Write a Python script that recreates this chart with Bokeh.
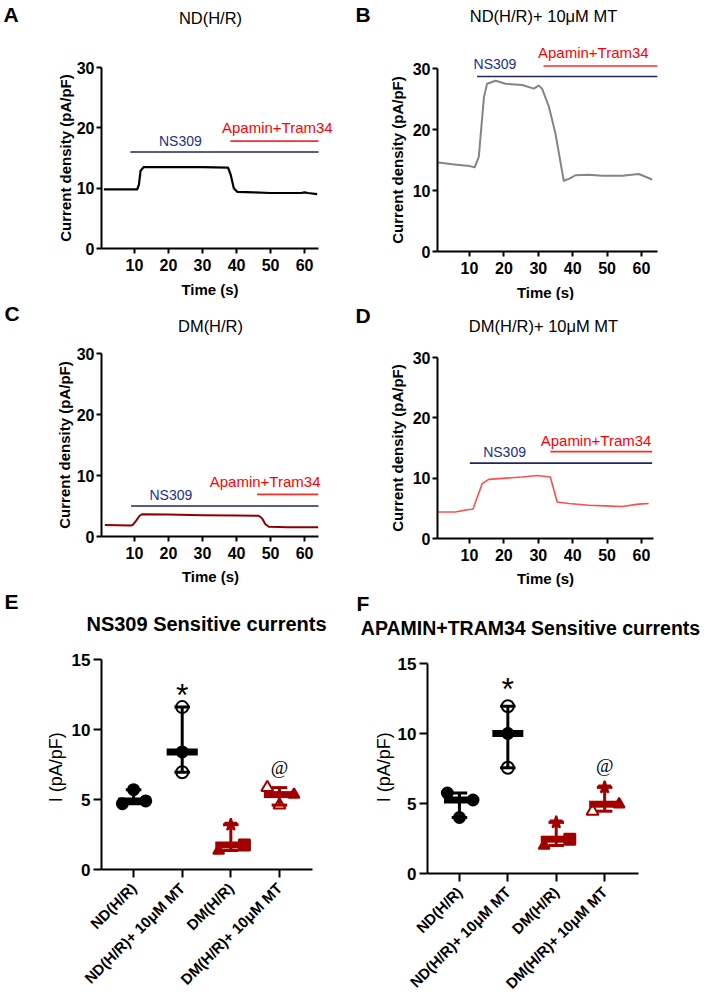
import math
from bokeh.plotting import figure
from bokeh.layouts import column, row
from bokeh.models import Range1d, Label, FixedTicker
from bokeh.embed import file_html
from bokeh.resources import INLINE

FONT = "Liberation Sans"
SERIF = "Liberation Serif"
NAVY = "#1f2566"
BAR_RED = "#ff2a2a"
TXT_NAVY = "#1b2f8a"
TXT_RED = "#ff0000"
DARK_RED = "#a00000"

# ---------------- Panels A-D: current density traces ----------------
a_time = [1.0, 5.0, 10.8, 11.3, 11.8, 12.7, 20.0, 30.0, 37.5, 38.3, 39.2, 40.2, 45.0, 50.0, 55.0, 59.0, 60.0, 61.0, 63.7]
a_curr = [9.8, 9.8, 9.8, 10.6, 12.9, 13.5, 13.5, 13.5, 13.4, 12.2, 10.0, 9.4, 9.3, 9.2, 9.2, 9.2, 9.3, 9.2, 9.0]

b_time = [0.9, 5.0, 10.0, 11.5, 12.7, 14.2, 15.1, 17.6, 20.5, 25.3, 28.7, 30.1, 31.1, 33.1, 35.0, 37.4, 38.9, 40.8, 44.7, 48.6, 54.4, 59.2, 63.1]
b_curr = [14.6, 14.3, 14.0, 13.8, 15.5, 25.3, 27.5, 28.0, 27.5, 27.3, 26.7, 27.2, 26.7, 23.7, 19.3, 11.6, 11.9, 12.5, 12.6, 12.4, 12.4, 12.7, 11.8]

c_time = [1.3, 5.0, 9.0, 9.5, 10.5, 11.5, 12.2, 20.0, 30.0, 40.0, 46.5, 47.5, 48.5, 49.5, 55.0, 64.0]
c_curr = [1.9, 1.85, 1.8, 1.9, 2.6, 3.4, 3.65, 3.6, 3.5, 3.45, 3.4, 3.0, 2.0, 1.6, 1.5, 1.5]

d_time = [0.9, 5.9, 9.8, 11.0, 13.7, 15.6, 20.5, 25.3, 29.7, 33.5, 35.5, 38.9, 44.7, 49.5, 54.4, 59.2, 62.1]
d_curr = [4.4, 4.4, 4.8, 4.85, 9.1, 9.8, 10.0, 10.2, 10.45, 10.2, 6.05, 5.8, 5.5, 5.4, 5.3, 5.7, 5.8]

# treatment bars: [start time, end time, level]
a_ns309 = [8.8, 64.1, 16.0]
a_apamin = [38.2, 64.1, 17.8]
b_ns309 = [12.2, 64.6, 28.7]
b_apamin = [31.5, 64.6, 30.4]
c_ns309 = [9.0, 64.1, 5.0]
c_apamin = [46.0, 64.0, 6.9]
d_ns309 = [10.1, 63.1, 12.5]
d_apamin = [33.5, 63.1, 14.4]

# treatment text anchors: [time, level]
a_ns309_txt = [23.5, 17.9]
a_apamin_txt = [52.0, 20.0]
b_ns309_txt = [17.4, 30.7]
b_apamin_txt = [46.0, 32.7]
c_ns309_txt = [20.7, 6.8]
c_apamin_txt = [48.4, 9.0]
d_ns309_txt = [20.2, 14.3]
d_apamin_txt = [46.8, 16.2]

time_ticks = [10, 20, 30, 40, 50, 60]
curr_ticks = [0, 10, 20, 30]

# ---------------- Panels E-F: sensitive currents ----------------
groups = ["ND(H/R)", "ND(H/R)+ 10\u03bcM MT", "DM(H/R)", "DM(H/R)+ 10\u03bcM MT"]
group_colors = ["#000000", "#000000", DARK_RED, DARK_RED]

e_nd = [5.7, 4.9, 4.7]
e_nd_mt = [11.6, 8.4, 6.95]
e_dm = [3.2, 1.75, 1.35]
e_dm_mt = [5.85, 5.35, 4.6]

f_nd = [5.75, 5.25, 4.0]
f_nd_mt = [11.95, 10.0, 7.55]
f_dm = [3.65, 2.45, 2.0]
f_dm_mt = [6.15, 4.95, 4.45]

sens_ticks = [0, 5, 10, 15]

# significance marks: (group index, level)
e_star = [1, 12.5]
e_at = [3, 7.3]
f_star = [1, 13.2]
f_at = [3, 7.7]

# marker styles (marker, filled, horizontal offset) -- style only
e_styles = [
    [("circle", True, 0.0), ("circle", True, 0.25), ("circle", True, -0.23)],
    [("circle", False, 0.0), ("circle", True, 0.0), ("circle", False, 0.0)],
    [("star", True, 0.0), ("square", True, 0.28), ("triangle", True, -0.25)],
    [("triangle", False, -0.25), ("triangle", True, 0.3), ("triangle", False, 0.0)],
]
f_styles = [
    [("circle", True, -0.25), ("circle", True, 0.28), ("circle", True, 0.0)],
    [("circle", False, 0.0), ("circle", True, 0.0), ("circle", False, 0.0)],
    [("star", True, 0.0), ("square", True, 0.28), ("triangle", True, -0.25)],
    [("star", True, 0.0), ("triangle", True, 0.3), ("triangle", False, -0.25)],
]

# ---------------- layout geometry (page pixels) ----------------
# box: figure (left, top, width, height); xmap/ymap: (pixel, value) pairs at axis ends
PANELS = {
    "A": dict(box=(0, 0, 354, 300), xmap=((101, 0.3), (318, 64.1)), ymap=((248, 0), (67, 30))),
    "B": dict(box=(354, 0, 354, 300), xmap=((437, 0.7), (657, 64.65)), ymap=((251, 0), (68, 30))),
    "C": dict(box=(0, 300, 354, 290), xmap=((101, 0.3), (318, 64.1)), ymap=((536, 0), (353, 30))),
    "D": dict(box=(354, 300, 354, 290), xmap=((437, 0.7), (653, 63.5)), ymap=((538, 0), (357, 30))),
    "E": dict(box=(0, 590, 354, 408), xmap=((101, -0.66), (312, 3.68)), ymap=((869, 0), (659, 15))),
    "F": dict(box=(354, 590, 354, 408), xmap=((427, -0.66), (638, 3.70)), ymap=((873, 0), (663, 15))),
}


def to_data(g, px, py):
    (L, xL), (R, xR) = g["xmap"]
    (B, y0), (T, yT) = g["ymap"]
    return xL + (px - L) * (xR - xL) / (R - L), y0 + (B - py) * (yT - y0) / (B - T)


def make_fig(g):
    ox, oy, w, h = g["box"]
    xs, ys = to_data(g, ox, oy + h)
    xe, ye = to_data(g, ox + w, oy)
    p = figure(width=w, height=h, title=None,
               x_range=Range1d(xs, xe), y_range=Range1d(ys, ye),
               toolbar_location=None, output_backend="svg", min_border=0)
    p.outline_line_color = None
    p.xgrid.visible = False
    p.ygrid.visible = False
    p.background_fill_color = "white"
    p.border_fill_color = "white"
    (L, xL), (R, xR) = g["xmap"]
    (B, y0), (T, yT) = g["ymap"]
    p.xaxis.fixed_location = y0
    p.xaxis.bounds = (xL, xR)
    p.yaxis.fixed_location = xL
    p.yaxis.bounds = (y0, yT)
    for ax in (p.xaxis[0], p.yaxis[0]):
        ax.axis_line_width = 2
        ax.axis_line_color = "black"
        ax.major_tick_line_width = 2
        ax.major_tick_line_color = "black"
        ax.minor_tick_line_color = None
        ax.major_tick_in = 0
        ax.major_label_text_font = FONT
        ax.major_label_text_font_style = "bold"
        ax.major_label_text_color = "black"
    return p


def add_text(p, g, text, px, py, size, bold=False, color="black", align="center",
             font=FONT, angle=0.0):
    x, y = to_data(g, px, py)
    p.add_layout(Label(x=x, y=y, text=text, text_align=align, text_baseline="middle",
                       text_font=font, text_font_size=size, angle=angle,
                       text_font_style="bold" if bold else "normal", text_color=color))


def trace_panel(key, title, title_xy, letter_xy, xlabel_xy, ylabel_xy, t, v, color, lw,
                ns, apa, ns_txt, apa_txt):
    g = PANELS[key]
    p = make_fig(g)
    p.xaxis.ticker = FixedTicker(ticks=time_ticks)
    p.yaxis.ticker = FixedTicker(ticks=curr_ticks)
    for ax in (p.xaxis[0], p.yaxis[0]):
        ax.major_label_text_font_size = "16px"
        ax.major_tick_out = 5
    p.xaxis.major_label_standoff = 5
    p.yaxis.major_label_standoff = 2

    p.line(t, v, line_color=color, line_width=lw, line_join="round")
    p.segment(x0=[ns[0]], y0=[ns[2]], x1=[ns[1]], y1=[ns[2]], line_color=NAVY, line_width=1.6)
    p.segment(x0=[apa[0]], y0=[apa[2]], x1=[apa[1]], y1=[apa[2]], line_color=BAR_RED, line_width=1.6)
    p.add_layout(Label(x=ns_txt[0], y=ns_txt[1], text="NS309", text_align="center",
                       text_baseline="middle", text_font=FONT, text_font_size="14px",
                       text_color=TXT_NAVY))
    p.add_layout(Label(x=apa_txt[0], y=apa_txt[1], text="Apamin+Tram34", text_align="center",
                       text_baseline="middle", text_font=FONT, text_font_size="15px",
                       text_color=TXT_RED))
    add_text(p, g, "Time (s)", xlabel_xy[0], xlabel_xy[1], "15px", bold=True)
    add_text(p, g, "Current density (pA/pF)", ylabel_xy[0], ylabel_xy[1], "15px", bold=True,
             angle=math.pi / 2)
    add_text(p, g, title, title_xy[0], title_xy[1], "16.5px")
    add_text(p, g, key, letter_xy[0], letter_xy[1], "21px", bold=True, align="left")
    return p


def scatter_panel(key, title, title_xy, letter_xy, ylabel_xy, series, styles, star, at,
                  title_size):
    g = PANELS[key]
    p = make_fig(g)
    p.xaxis.ticker = FixedTicker(ticks=list(range(len(groups))))
    p.xaxis.major_label_overrides = {i: name for i, name in enumerate(groups)}
    p.xaxis.major_label_orientation = math.pi / 4
    p.xaxis.major_label_text_font_size = "15px"
    p.xaxis.major_label_standoff = 8
    p.xaxis.major_tick_out = 8
    p.yaxis.ticker = FixedTicker(ticks=sens_ticks)
    p.yaxis.major_label_text_font_size = "17px"
    p.yaxis.major_tick_out = 8
    p.yaxis.major_label_standoff = 3

    for i, (vals, sty, col) in enumerate(zip(series, styles, group_colors)):
        srt = sorted(vals)
        lo, med, hi = srt[0], srt[len(srt) // 2], srt[-1]
        p.segment(x0=[i], y0=[lo], x1=[i], y1=[hi], line_color=col, line_width=3)
        p.segment(x0=[i - 0.16, i - 0.16], y0=[lo, hi], x1=[i + 0.16, i + 0.16], y1=[lo, hi],
                  line_color=col, line_width=3)
        p.segment(x0=[i - 0.32], y0=[med], x1=[i + 0.32], y1=[med], line_color=col, line_width=7)
        for val, (mk, filled, dx) in zip(vals, sty):
            size = 13 if mk == "star" else (12 if not filled else 11)
            p.scatter([i + dx], [val], marker=mk, size=size,
                      fill_color=col if filled else None, line_color=col, line_width=2)

    p.add_layout(Label(x=star[0], y=star[1], text="*", text_align="center", text_baseline="middle",
                       text_font=FONT, text_font_size="32px", text_color="black"))
    p.add_layout(Label(x=at[0], y=at[1], text="@", text_align="center", text_baseline="middle",
                       text_font=SERIF, text_font_size="19px", text_color="black"))
    add_text(p, g, "I (pA/pF)", ylabel_xy[0], ylabel_xy[1], "18px", angle=math.pi / 2)
    add_text(p, g, title, title_xy[0], title_xy[1], title_size, bold=True)
    add_text(p, g, key, letter_xy[0], letter_xy[1], "21px", bold=True, align="left")
    return p


pA = trace_panel("A", "ND(H/R)", (210, 17), (3, 14), (209.5, 289), (65, 157.5),
                 a_time, a_curr, "#000000", 2.2, a_ns309, a_apamin, a_ns309_txt, a_apamin_txt)
pB = trace_panel("B", "ND(H/R)+ 10\u03bcM MT", (543, 15), (355, 14), (545, 292), (397, 159.5),
                 b_time, b_curr, "#858585", 2.0, b_ns309, b_apamin, b_ns309_txt, b_apamin_txt)
pC = trace_panel("C", "DM(H/R)", (210, 325), (4, 313), (210, 576), (64, 444.5),
                 c_time, c_curr, "#8e0000", 2.0, c_ns309, c_apamin, c_ns309_txt, c_apamin_txt)
pD = trace_panel("D", "DM(H/R)+ 10\u03bcM MT", (543, 325), (355, 315), (545, 578), (397, 447.5),
                 d_time, d_curr, "#ff4d4d", 1.6, d_ns309, d_apamin, d_ns309_txt, d_apamin_txt)
pE = scatter_panel("E", "NS309 Sensitive currents", (206, 623), (4, 601), (55, 766.7),
                   [e_nd, e_nd_mt, e_dm, e_dm_mt], e_styles, e_star, e_at, "20px")
pF = scatter_panel("F", "APAMIN+TRAM34 Sensitive currents", (530, 627), (356, 603), (383, 766.7),
                   [f_nd, f_nd_mt, f_dm, f_dm_mt], f_styles, f_star, f_at, "19.5px")

layout = column(row(pA, pB), row(pC, pD), row(pE, pF))

with open("out.html", "w") as fh:
    fh.write(file_html(layout, INLINE))
